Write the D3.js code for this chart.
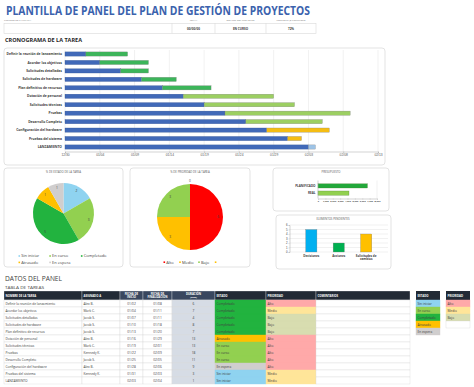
<!DOCTYPE html>
<html>
<head>
<meta charset="utf-8" />
<script src="https://d3js.org/d3.v7.min.js"></script>
<style>
body { margin: 0; background: #fff; }
svg { display: block; font-family: "Open Sans", "Liberation Sans", sans-serif; }
</style>
</head>
<body>
<div id="chart"></div>
<script>
// ---- data ----
var taskNames = ["Definir la reunión de lanzamiento", "Acordar los objetivos", "Solicitudes detalladas",
	"Solicitudes de hardware", "Plan definitivo de recursos", "Dotación de personal", "Solicitudes técnicas",
	"Pruebas", "Desarrollo Completo", "Configuración del hardware", "Pruebas del sistema", "LANZAMIENTO"];
var assignees = ["Alex B.", "Mark C.", "Jacob S.", "Jacob S.", "Jacob S.", "Alex B.", "Mark C.",
	"Kennedy K.", "Jacob S.", "Alex B.", "Kennedy K.", ""];
var ganttStart = ["2023-01-02", "2023-01-04", "2023-01-07", "2023-01-10", "2023-01-13", "2023-01-16",
	"2023-01-19", "2023-01-22", "2023-01-25", "2023-01-28", "2023-01-31", "2023-02-03"];
var ganttDays = [6, 7, 4, 5, 7, 13, 13, 18, 11, 9, 2, 1];
var ganttStatus = ["Completado", "Completado", "Completado", "Completado", "Completado", "En curso",
	"En curso", "En curso", "En curso", "Atrasado", "Atrasado", "Sin iniciar"];
var ganttDomain = ["2022-12-30", "2023-02-13"];

var tableStart = ["01/02", "01/04", "01/07", "01/10", "01/13", "01/16", "01/19", "01/22", "01/25", "01/28", "01/31", "02/03"];
var tableEnd = ["01/08", "01/11", "01/11", "01/18", "01/20", "01/29", "02/01", "02/09", "02/05", "02/06", "02/03", "02/04"];
var tableDays = [6, 7, 4, 8, 7, 13, 13, 18, 11, 9, 3, 1];
var tableStatus = ["Completado", "Completado", "Completado", "Completado", "Completado", "Atrasado",
	"En curso", "En curso", "En curso", "En espera", "Sin iniciar", "Sin iniciar"];
var tablePriority = ["Alto", "Medio", "Bajo", "Bajo", "Bajo", "Alto", "Alto", "Alto", "Alto", "Alto", "Medio", "Medio"];

var statusNames = ["Sin iniciar", "En curso", "Completado", "Atrasado", "En espera"];
var statusCounts = [2, 3, 5, 1, 1];
var priorityNames = ["Alto", "Medio", "Bajo", ""];
var priorityCounts = [6, 3, 3, 0];

var budgetNames = ["PLANIFICADO", "REAL"];
var budgetValues = [6700, 4200];
var budgetTicks = [0, 1000, 2000, 3000, 4000, 5000, 6000, 7000, 8000];

var pendingNames = ["Decisiones", "Acciones", "Solicitudes de cambios"];
var pendingValues = [5, 2, 4];

var infoLabels = ["NOMBRE DE CAMPAÑA", "FECHA", "ESTADO DEL PROYECTO", "PORCENTAJE COMPLETO"];
var infoValues = ["", "00/00/00", "EN CURSO", "72%"];

// ---- colours ----
var statusColor = { "Sin iniciar": "#8fd3f0", "En curso": "#92d050", "Completado": "#22b33f", "Atrasado": "#ffc000", "En espera": "#d0cece" };
var ganttColor = { "Sin iniciar": "#9dc3e6", "En curso": "#9ccf62", "Completado": "#3cb55a", "Atrasado": "#f5bd13" };
var pieColor2 = { "Alto": "#ff0000", "Medio": "#ffc000", "Bajo": "#92d050", "": "#ffc000" };
var prioFill = { "Alto": "#ffa9a9", "Medio": "#ffe599", "Bajo": "#d8ddb0" };

var svg = d3.select("#chart").append("svg").attr("width", 474).attr("height", 387);

function panel(x0, y0, x1, y1) {
	svg.append("rect").attr("x", x0).attr("y", y0).attr("width", x1 - x0).attr("height", y1 - y0)
		.attr("rx", 3).attr("fill", "#fff").attr("stroke", "#dcdcdc").attr("stroke-width", 0.8);
}

// ---- header ----
svg.append("text").attr("x", 6).attr("y", 15).attr("textLength", 304).attr("lengthAdjust", "spacingAndGlyphs")
	.style("font-size", "13px").style("font-weight", "bold").style("fill", "#3b62ad")
	.text("PLANTILLA DE PANEL DEL PLAN DE GESTIÓN DE PROYECTOS");

var infoEdges = [4, 172, 215, 266, 316];
svg.append("rect").attr("x", 4).attr("y", 23.3).attr("width", 312).attr("height", 10)
	.attr("fill", "#fff").attr("stroke", "#d9d9d9").attr("stroke-width", 0.6);
infoLabels.forEach(function (t, i) {
	var cx = i == 0 ? 4 : (infoEdges[i] + infoEdges[i + 1]) / 2;
	svg.append("text").attr("x", cx).attr("y", 21.4).attr("text-anchor", i == 0 ? "start" : "middle")
		.style("font-size", "2.5px").style("fill", "#808080").text(t);
	if (i > 0) {
		svg.append("line").attr("x1", infoEdges[i]).attr("x2", infoEdges[i]).attr("y1", 23.3).attr("y2", 33.3)
			.attr("stroke", "#d9d9d9").attr("stroke-width", 0.6);
		svg.append("text").attr("x", cx).attr("y", 29.6).attr("text-anchor", "middle")
			.style("font-size", "3px").style("font-weight", "bold").style("fill", "#404040").text(infoValues[i]);
	}
});

svg.append("text").attr("x", 5).attr("y", 41.7).attr("textLength", 77).attr("lengthAdjust", "spacingAndGlyphs")
	.style("font-size", "5.5px").style("font-weight", "bold").style("fill", "#262626").text("CRONOGRAMA DE LA TAREA");

// ---- gantt ----
panel(4, 48, 385, 165);
var parseDay = d3.timeParse("%Y-%m-%d");
var d0 = parseDay(ganttDomain[0]), d1 = parseDay(ganttDomain[1]);
var x = d3.scaleTime().domain([d0, d1]).range([65, 378]);
var y = d3.scalePoint().domain(taskNames).range([54, 147]);
var ticks = d3.timeDay.range(d0, d3.timeDay.offset(d1, 1), 5);

svg.append("g").selectAll("line").data(ticks).enter().append("line")
	.attr("x1", function (d) { return x(d); }).attr("x2", function (d) { return x(d); })
	.attr("y1", 50).attr("y2", 151.5).attr("stroke", "#e3e3e3").attr("stroke-width", 0.5);

var gAxis = svg.append("g").attr("transform", "translate(0,151.5)")
	.call(d3.axisBottom(x).tickValues(ticks).tickFormat(d3.timeFormat("%m/%d")).tickSize(1.5).tickPadding(1));
gAxis.select(".domain").attr("stroke", "#a6a6a6").attr("stroke-width", 0.5);
gAxis.selectAll(".tick line").attr("stroke", "#a6a6a6").attr("stroke-width", 0.5);
gAxis.selectAll("text").style("font-size", "3.3px").style("fill", "#595959").attr("font-family", null);

var bh = 4.2;
taskNames.forEach(function (name, i) {
	var s = parseDay(ganttStart[i]);
	var e = d3.timeDay.offset(s, ganttDays[i]);
	svg.append("rect").attr("x", x(d0)).attr("y", y(name) - bh / 2).attr("width", x(s) - x(d0)).attr("height", bh)
		.attr("fill", "#4169b8").attr("stroke", "#2f4f8f").attr("stroke-width", 0.3);
	svg.append("rect").attr("x", x(s)).attr("y", y(name) - bh / 2).attr("width", x(e) - x(s)).attr("height", bh)
		.attr("fill", ganttColor[ganttStatus[i]]).attr("stroke", "#7f7f7f").attr("stroke-width", 0.3);
	svg.append("text").attr("x", 62).attr("y", y(name) + 1.1).attr("text-anchor", "end")
		.style("font-size", "3.3px").style("font-weight", "bold").style("fill", "#404040").text(name);
});

// ---- pies ----
function pieChart(x0, x1, title, cx, cy, r, names, values, colors, legendRows) {
	panel(x0, 168, x1, 267);
	svg.append("text").attr("x", (x0 + x1) / 2).attr("y", 173).attr("text-anchor", "middle")
		.style("font-size", "2.8px").style("fill", "#595959").text(title);
	var arcs = d3.pie().sort(null).value(function (d) { return d; })(values);
	var arc = d3.arc().innerRadius(0).outerRadius(r);
	var g = svg.append("g").attr("transform", "translate(" + cx + "," + cy + ")");
	g.selectAll("path").data(arcs).enter().append("path").attr("d", arc)
		.attr("fill", function (d, i) { return colors[names[i]]; });
	g.selectAll("text").data(arcs).enter().append("text")
		.attr("transform", function (d) {
			var k = d.value == 0 ? 1.1 : 0.85;
			var a = (d.startAngle + d.endAngle) / 2;
			return "translate(" + (Math.sin(a) * r * k) + "," + (-Math.cos(a) * r * k + 1) + ")";
		})
		.attr("text-anchor", "middle").style("font-size", "3.2px").style("fill", "#404040")
		.text(function (d) { return d.value; });
	legendRows.forEach(function (row) {
		svg.append("rect").attr("x", row.x - 1).attr("y", row.y - 2.1).attr("width", 1.6).attr("height", 1.6)
			.attr("fill", colors[row.name]);
		svg.append("text").attr("x", row.x + 1.8).attr("y", row.y).style("font-size", "4px").style("fill", "#404040").text(row.name);
	});
}

pieChart(4, 123, "% DE ESTADO DE LA TAREA", 63.5, 213.5, 30.5, statusNames, statusCounts, statusColor, [
	{ name: statusNames[0], x: 19.5, y: 257.3 }, { name: statusNames[1], x: 50.3, y: 257.3 }, { name: statusNames[2], x: 81.9, y: 257.3 },
	{ name: statusNames[3], x: 19.5, y: 263.7 }, { name: statusNames[4], x: 50.3, y: 263.7 }]);

pieChart(130, 250, "% DE PRIORIDAD DE LA TAREA", 190, 217, 33, priorityNames, priorityCounts, pieColor2, [
	{ name: priorityNames[0], x: 164.5, y: 263.5 }, { name: priorityNames[1], x: 180.2, y: 263.5 },
	{ name: priorityNames[2], x: 199.2, y: 263.5 }, { name: priorityNames[3], x: 215.8, y: 263.5 }]);

// ---- presupuesto ----
panel(273, 168, 389, 211);
svg.append("text").attr("x", 331).attr("y", 173).attr("text-anchor", "middle")
	.style("font-size", "2.8px").style("fill", "#595959").text("PRESUPUESTO");
var bx = d3.scaleLinear().domain([0, 8000]).range([318, 377]);
var by = d3.scaleBand().domain(budgetNames).range([180.5, 198.5]).padding(0.5);
svg.append("line").attr("x1", bx(8000)).attr("x2", bx(8000)).attr("y1", 180.5).attr("y2", 198.5)
	.attr("stroke", "#e3e3e3").attr("stroke-width", 0.5);
svg.selectAll(".bbar").data(budgetValues).enter().append("rect").attr("class", "bbar")
	.attr("x", bx(0)).attr("y", function (d, i) { return by(budgetNames[i]) - 0.3; })
	.attr("width", function (d) { return bx(d) - bx(0); }).attr("height", by.bandwidth() + 0.6)
	.attr("fill", function (d, i) { return i == 0 ? "#22a83a" : "#92d050"; })
	.attr("stroke", "#4f7f2f").attr("stroke-width", 0.3);
var bAxis = svg.append("g").attr("transform", "translate(0,198.5)")
	.call(d3.axisBottom(bx).tickValues(budgetTicks).tickFormat(d3.format(",")).tickSize(1).tickPadding(0.8));
bAxis.select(".domain").attr("stroke", "#a6a6a6").attr("stroke-width", 0.5);
bAxis.selectAll(".tick line").attr("stroke", "#a6a6a6").attr("stroke-width", 0.4);
bAxis.selectAll("text").style("font-size", "2.4px").style("font-weight", "bold").style("fill", "#404040").attr("font-family", null);
svg.append("line").attr("x1", bx(0)).attr("x2", bx(0)).attr("y1", 180.5).attr("y2", 198.5)
	.attr("stroke", "#a6a6a6").attr("stroke-width", 0.5);
budgetNames.forEach(function (n) {
	svg.append("text").attr("x", 315.5).attr("y", by(n) + by.bandwidth() / 2 + 1).attr("text-anchor", "end")
		.style("font-size", "3px").style("font-weight", "bold").style("fill", "#404040").text(n);
});

// ---- elementos pendientes ----
panel(276, 215, 391, 269);
svg.append("text").attr("x", 333).attr("y", 220).attr("text-anchor", "middle")
	.style("font-size", "2.8px").style("fill", "#595959").text("ELEMENTOS PENDIENTES");
var px = d3.scaleBand().domain(pendingNames).range([289.5, 388]).padding(0.59);
var py = d3.scaleLinear().domain([0, 6]).range([252, 225]);
svg.append("g").selectAll("line").data(py.ticks(6)).enter().append("line")
	.attr("x1", 289.5).attr("x2", 388).attr("y1", function (d) { return py(d); }).attr("y2", function (d) { return py(d); })
	.attr("stroke", "#e3e3e3").attr("stroke-width", 0.5);
var pAxis = svg.append("g").attr("transform", "translate(289.5,0)")
	.call(d3.axisLeft(py).ticks(6).tickSize(1).tickPadding(1));
pAxis.select(".domain").attr("stroke", "#a6a6a6").attr("stroke-width", 0.5);
pAxis.selectAll(".tick line").attr("stroke", "#a6a6a6").attr("stroke-width", 0.4);
pAxis.selectAll("text").style("font-size", "2.8px").style("fill", "#404040").attr("font-family", null);
var pColors = ["#00b0f0", "#00b050", "#ffc000"];
svg.selectAll(".pbar").data(pendingValues).enter().append("rect").attr("class", "pbar")
	.attr("x", function (d, i) { return px(pendingNames[i]); }).attr("y", function (d) { return py(d); })
	.attr("width", px.bandwidth()).attr("height", function (d) { return py(0) - py(d); })
	.attr("fill", function (d, i) { return pColors[i]; }).attr("stroke", "#7f7f7f").attr("stroke-width", 0.3);
pendingNames.forEach(function (n) {
	var cx = px(n) + px.bandwidth() / 2;
	var lines = n == "Solicitudes de cambios" ? ["Solicitudes de", "cambios"] : [n];
	lines.forEach(function (l, j) {
		svg.append("text").attr("x", cx).attr("y", 256.5 + j * 3.6).attr("text-anchor", "middle")
			.style("font-size", "3px").style("font-weight", "bold").style("fill", "#404040").text(l);
	});
});

// ---- datos del panel / table ----
svg.append("text").attr("x", 5).attr("y", 280.5).attr("textLength", 57).attr("lengthAdjust", "spacingAndGlyphs")
	.style("font-size", "7px").style("fill", "#404040").text("DATOS DEL PANEL");
svg.append("text").attr("x", 5).attr("y", 288.5).attr("textLength", 39).attr("lengthAdjust", "spacingAndGlyphs")
	.style("font-size", "4.3px").style("fill", "#404040").text("TABLA DE TAREAS");

var cols = [4, 82, 120, 143, 172, 215, 266, 316, 410];
var headers = [["NOMBRE DE LA TAREA"], ["ASIGNADO A"], ["FECHA DE", "INICIO"], ["FECHA DE", "FINALIZACIÓN"],
	["DURACIÓN", "(días)"], ["ESTADO"], ["PRIORIDAD"], ["COMENTARIOS"]];
var hy0 = 291, hy1 = 300, rh = 7;

function cellText(x0, x1, yc, t, center, bold, color) {
	svg.append("text").attr("x", center ? (x0 + x1) / 2 : x0 + 1.5).attr("y", yc + 1.1)
		.attr("text-anchor", center ? "middle" : "start")
		.style("font-size", "3.2px").style("font-weight", bold ? "bold" : "normal").style("fill", color || "#404040").text(t);
}

headers.forEach(function (h, c) {
	var centered = c >= 2 && c <= 4;
	svg.append("rect").attr("x", cols[c]).attr("y", hy0).attr("width", cols[c + 1] - cols[c]).attr("height", hy1 - hy0)
		.attr("fill", centered ? "#39475f" : "#222a35").attr("stroke", "#fff").attr("stroke-width", 0.3);
	h.forEach(function (l, j) {
		var yc = h.length == 1 ? (hy0 + hy1) / 2 : hy0 + 2.8 + j * 3.4;
		svg.append("text").attr("x", centered ? (cols[c] + cols[c + 1]) / 2 : cols[c] + 1.5).attr("y", yc + 1)
			.attr("text-anchor", centered ? "middle" : "start")
			.style("font-size", j == 1 && c == 4 ? "2.4px" : "2.8px").style("font-weight", "bold").style("fill", "#fff").text(l);
	});
});

taskNames.forEach(function (name, i) {
	var ty = hy1 + i * rh, yc = ty + rh / 2;
	var fills = ["#fff", "#fff", "#fff", "#fff", "#d6dce5", statusColor[tableStatus[i]], prioFill[tablePriority[i]], "#fff"];
	fills.forEach(function (f, c) {
		svg.append("rect").attr("x", cols[c]).attr("y", ty).attr("width", cols[c + 1] - cols[c]).attr("height", rh)
			.attr("fill", f).attr("stroke", c >= 5 && c <= 6 ? f : "#d9d9d9").attr("stroke-width", 0.4);
	});
	cellText(cols[0], cols[1], yc, name);
	cellText(cols[1], cols[2], yc, assignees[i]);
	cellText(cols[2], cols[3], yc, tableStart[i], true);
	cellText(cols[3], cols[4], yc, tableEnd[i], true);
	cellText(cols[4], cols[5], yc, tableDays[i], true);
	cellText(cols[5], cols[6], yc, tableStatus[i]);
	cellText(cols[6], cols[7], yc, tablePriority[i]);
});

// legend tables
function keyTable(x0, x1, title, names, fills, extraRows) {
	svg.append("rect").attr("x", x0).attr("y", hy0).attr("width", x1 - x0).attr("height", hy1 - hy0).attr("fill", "#222a35");
	svg.append("text").attr("x", x0 + 1.5).attr("y", (hy0 + hy1) / 2 + 1).style("font-size", "2.8px")
		.style("font-weight", "bold").style("fill", "#fff").text(title);
	names.concat(extraRows).forEach(function (n, i) {
		var ty = hy1 + i * rh;
		svg.append("rect").attr("x", x0).attr("y", ty).attr("width", x1 - x0).attr("height", rh)
			.attr("fill", fills[n] || "#fff").attr("stroke", fills[n] ? fills[n] : "#d9d9d9").attr("stroke-width", 0.4);
		if (n) cellText(x0, x1, ty + rh / 2, n);
	});
}
keyTable(416, 440, "ESTADO", statusNames, statusColor, []);
keyTable(446, 470, "PRIORIDAD", ["Alto", "Medio", "Bajo"], prioFill, [""]);
</script>
</body>
</html>
